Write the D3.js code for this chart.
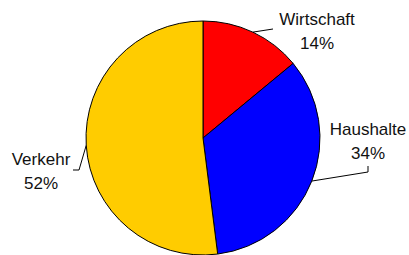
<!DOCTYPE html>
<html>
<head>
<meta charset="utf-8">
<script src="https://cdn.jsdelivr.net/npm/d3@7"></script>
<style>
  body { margin: 0; background: #fff; }
  text { font-family: "Liberation Sans", Arial, sans-serif; font-size: 17px; fill: #111; }
</style>
</head>
<body>
<svg></svg>
<script>
const categories = ['Wirtschaft', 'Haushalte', 'Verkehr'];
const values = [14, 34, 52];
const colors = ['#ff0000', '#0000ff', '#ffcc00'];

const width = 409;
const height = 255;
const cx = 203, cy = 138, radius = 117;

// where each label sits and where its leader line ends
const labelPos = [
  { x: 317, y: 25, line: [[273, 29]] },
  { x: 368, y: 135, line: [[368, 172], [368, 166]] },
  { x: 41, y: 165, line: [[79, 170], [73, 170]] }
];

const svg = d3.select('svg')
  .attr('width', width)
  .attr('height', height);

const pie = d3.pie().sort(null).value(d => d);
const arcs = pie(values);

const arc = d3.arc().innerRadius(0).outerRadius(radius);

const chart = svg.append('g').attr('transform', `translate(${cx}, ${cy})`);

chart.selectAll('.slice')
  .data(arcs)
  .enter()
  .append('path')
  .classed('slice', true)
  .attr('d', arc)
  .attr('fill', (d, i) => colors[i])
  .attr('stroke', '#000')
  .attr('stroke-width', 1);

// leader lines
arcs.forEach((d, i) => {
  const mid = (d.startAngle + d.endAngle) / 2;
  const start = [cx + radius * Math.sin(mid), cy - radius * Math.cos(mid)];
  const pts = [start].concat(labelPos[i].line);
  svg.append('path')
    .attr('d', d3.line()(pts))
    .attr('fill', 'none')
    .attr('stroke', '#000')
    .attr('stroke-width', 1);
});

const labels = svg.selectAll('.label')
  .data(arcs)
  .enter()
  .append('text')
  .classed('label', true)
  .attr('text-anchor', 'middle');

labels.append('tspan')
  .attr('x', (d, i) => labelPos[i].x)
  .attr('y', (d, i) => labelPos[i].y)
  .text((d, i) => categories[i]);

labels.append('tspan')
  .attr('x', (d, i) => labelPos[i].x)
  .attr('y', (d, i) => labelPos[i].y + 23.5)
  .text(d => d.data + '%');
</script>
</body>
</html>
